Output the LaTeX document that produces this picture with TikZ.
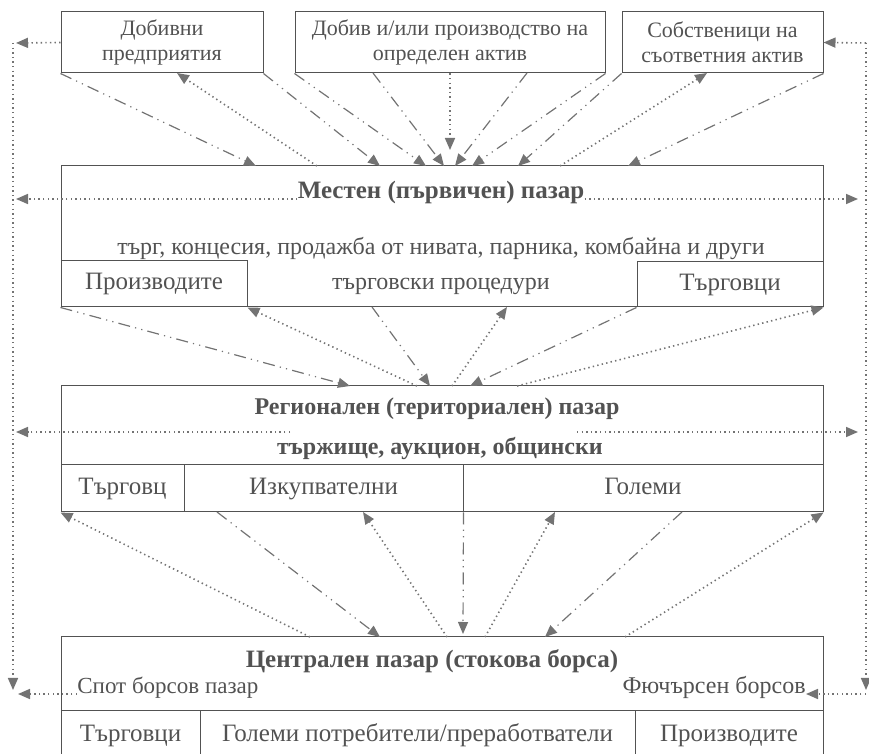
\documentclass[tikz,border=0pt]{standalone}
\usepackage{fontspec}
\setmainfont{Liberation Serif}
\usetikzlibrary{arrows.meta,positioning}
\definecolor{ink}{gray}{0.32}
\definecolor{wire}{gray}{0.45}
\tikzset{
    box/.style={draw=ink, line width=0.5pt, inner sep=0pt, align=center, text=ink},
    cell/.style={box, text height=9pt, text depth=3pt, font=\fontsize{12.5}{14}\selectfont},
    label/.style={inner sep=0pt, text=ink, align=center},
    flow/.style={draw=wire, line width=0.6pt, dash pattern=on 6pt off 2.6pt on 0.6pt off 2.6pt on 0.6pt off 2.6pt, -{Triangle[length=6pt,width=5pt]}},
    feed/.style={draw=wire, line width=0.8pt, dash pattern=on 0.7pt off 1.6pt, -{Triangle[length=6pt,width=5pt]}}
}

\begin{document}
\begin{tikzpicture}[x=0.5pt, y=-0.5pt]
    \useasboundingbox (0,0) rectangle (869,754);
    \clip (0,0) rectangle (869,754);

    % Sources
    \node [box, minimum width=101pt, minimum height=30.5pt, font=\fontsize{11}{12.5}\selectfont] (mine) at (162,42.5) {Добивни\\предприятия};
    \node [box, minimum width=155pt, minimum height=30.5pt, font=\fontsize{11}{12.5}\selectfont] (asset) at (450,42.5) {Добив и/или производство на\\определен актив};
    \node [box, minimum width=100.5pt, minimum height=30.5pt, font=\fontsize{11}{12.5}\selectfont] (owners) at (722.5,42.5) {Собственици на\\съответния актив};

    % Local market
    \node [box, minimum width=381pt, minimum height=70.5pt] (local) at (442,236.5) {};
    \node [cell, minimum width=93pt, minimum height=23pt] (prod) at (154,284) {Производите};
    \node [cell, minimum width=93pt, minimum height=22.5pt] (trad) at (730,284.5) {Търговци};
    \node [label, anchor=base, font=\fontsize{12.5}{14}\selectfont\bfseries] (localtitle) at (441,199) {Местен (първичен) пазар};
    \node [label, font=\fontsize{12}{17.5}\selectfont] (localtext) at (441,266) {търг, концесия, продажба от нивата, парника, комбайна и други\\търговски процедури};

    % Regional market
    \node [box, minimum width=381pt, minimum height=63pt] (region) at (442,449) {};
    \node [cell, minimum width=61.5pt, minimum height=23.5pt] (regtrade) at (122.5,488.5) {Търговц};
    \node [cell, minimum width=139.5pt, minimum height=23.5pt] (regbuy) at (323.5,488.5) {Изкупвателни};
    \node [cell, minimum width=180pt, minimum height=23.5pt] (regbig) at (643,488.5) {Големи};
    \node [label, anchor=base, font=\fontsize{12}{14}\selectfont\bfseries] (regtitle) at (437,415) {Регионален (териториален) пазар};
    \node [label, anchor=base, font=\fontsize{12}{14}\selectfont\bfseries] (regtext) at (440,455) {тържище, аукцион, общински};

    % Central market
    \node [box, minimum width=381pt, minimum height=37pt] (central) at (442,674) {};
    \node [cell, minimum width=69.5pt, minimum height=24.5pt] (ctrade) at (130.5,735.5) {Търговци};
    \node [cell, minimum width=217.5pt, minimum height=24.5pt] (cbig) at (417.5,735.5) {Големи потребители/преработватели};
    \node [cell, minimum width=94pt, minimum height=24.5pt] (cprod) at (729,735.5) {Производите};
    \node [label, anchor=base, font=\fontsize{12.5}{14}\selectfont\bfseries] (ctitle) at (432,668) {Централен пазар (стокова борса)};
    \node [label, anchor=base west, font=\fontsize{11.5}{14}\selectfont] (spot) at (77,694) {Спот борсов пазар};
    \node [label, anchor=base east, font=\fontsize{12}{14}\selectfont] (futures) at (806,694) {Фючърсен борсов};

    % Ends on the box edges
    \coordinate (a1) at (256,166);
    \coordinate (a2) at (317,166);
    \coordinate (a3) at (177,73);
    \coordinate (a4) at (380,166);
    \coordinate (a5) at (426,166);
    \coordinate (a6) at (373,73);
    \coordinate (a7) at (444,166);
    \coordinate (a8) at (450,150);
    \coordinate (a9) at (527,73);
    \coordinate (a10) at (455,166);
    \coordinate (a11) at (472,166);
    \coordinate (a12) at (518,166);
    \coordinate (a13) at (560,166);
    \coordinate (a14) at (707,73);
    \coordinate (a15) at (628,166);

    \coordinate (b1) at (350,386);
    \coordinate (b2) at (417,386);
    \coordinate (b3) at (372,307);
    \coordinate (b4) at (430,386);
    \coordinate (b5) at (452,386);
    \coordinate (b6) at (507,307);
    \coordinate (b7) at (470,386);
    \coordinate (b8) at (517,386);

    \coordinate (c1) at (310,637);
    \coordinate (c2) at (217,512);
    \coordinate (c3) at (380,637);
    \coordinate (c4) at (447,637);
    \coordinate (c5) at (363,512);
    \coordinate (c6) at (463,634);
    \coordinate (c7) at (485,637);
    \coordinate (c8) at (555,512);
    \coordinate (c9) at (682,512);
    \coordinate (c10) at (545,637);
    \coordinate (c11) at (625,637);

    \coordinate (l1) at (16,43);
    \coordinate (l2) at (13,43);
    \coordinate (l3) at (13,690);
    \coordinate (l4) at (16,199);
    \coordinate (l5) at (290,432);
    \coordinate (l6) at (16,432);
    \coordinate (l7) at (18,694);
    \coordinate (r1) at (866,43);
    \coordinate (r2) at (866,690);
    \coordinate (r3) at (858,199);
    \coordinate (r4) at (577,432);
    \coordinate (r5) at (858,432);
    \coordinate (r6) at (866,694);

    % Sources to local market
    \path [flow] (mine.south west) -- (a1);
    \path [feed] (a2) -- (a3);
    \path [flow] (mine.south east) -- (a4);
    \path [flow] (asset.south west) -- (a5);
    \path [flow] (a6) -- (a7);
    \path [feed] (asset.south) -- (a8);
    \path [flow] (a9) -- (a10);
    \path [flow] (asset.south east) -- (a11);
    \path [flow] (owners.south west) -- (a12);
    \path [feed] (a13) -- (a14);
    \path [flow] (owners.south east) -- (a15);

    % Local to regional
    \path [flow] (local.south west) -- (b1);
    \path [feed] (b2) -- (prod.south east);
    \path [flow] (b3) -- (b4);
    \path [feed] (b5) -- (b6);
    \path [flow] (trad.south west) -- (b7);
    \path [feed] (b8) -- (trad.south east);

    % Regional to central
    \path [feed] (c1) -- (regtrade.south west);
    \path [flow] (c2) -- (c3);
    \path [feed] (c4) -- (c5);
    \path [flow] (regbuy.south east) -- (c6);
    \path [feed] (c7) -- (c8);
    \path [flow] (c9) -- (c10);
    \path [feed] (c11) -- (regbig.south east);

    % Side links
    \path [feed] (mine.west) -- (l1);
    \path [feed] (l2) -- (l3);
    \path [feed] (localtitle.base west) -- (l4);
    \path [feed] (l5) -- (l6);
    \path [feed] (spot.base west) -- (l7);
    \path [feed] (r1) -- (owners.east);
    \path [feed] (r1) -- (r2);
    \path [feed] (localtitle.base east) -- (r3);
    \path [feed] (r4) -- (r5);
    \path [feed] (r6) -- (futures.base east);
\end{tikzpicture}
\end{document}
